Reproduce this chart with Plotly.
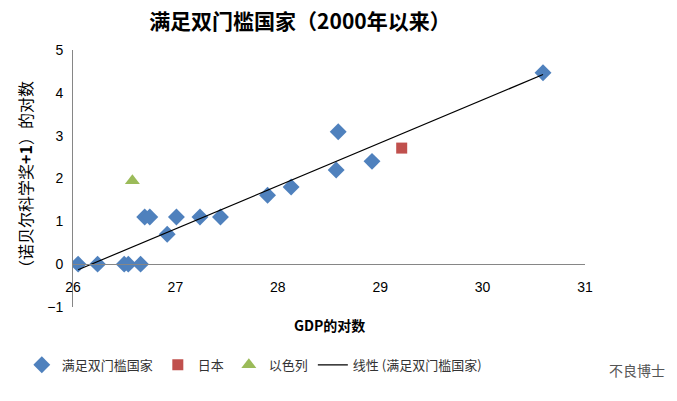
import numpy as np
import plotly.graph_objects as go

# Data
main_x = [26.05, 26.24, 26.50, 26.54, 26.66, 26.70, 26.75, 26.92, 27.01, 27.24, 27.44,
          27.90, 28.13, 28.59, 28.57, 28.92, 30.59]
main_y = [0.0, 0.0, 0.0, 0.0, 0.0, 1.10, 1.10, 0.70, 1.10, 1.10, 1.10,
          1.61, 1.80, 3.09, 2.20, 2.40, 4.47]
japan_x = [29.21]
japan_y = [2.71]
israel_x = [26.58]
israel_y = [1.95]

x_ticks = [26, 27, 28, 29, 30, 31]
y_ticks = [-1, 0, 1, 2, 3, 4, 5]

name_main = "满足双门槛国家"
name_japan = "日本"
name_israel = "以色列"
name_trend = "线性 (满足双门槛国家)"
title_text = "<b>满足双门槛国家（2000年以来）</b>"
x_title = "GDP的对数"
y_title = "（诺贝尔科学奖<b>+1</b>）的对数"

# linear trend line fitted to main series
slope, intercept = np.polyfit(main_x, main_y, 1)
trend_x = [min(main_x), max(main_x)]
trend_y = [slope * v + intercept for v in trend_x]

cjk = "Noto Sans CJK SC, Liberation Sans, sans-serif"
num_font = "Liberation Sans, Noto Sans CJK SC, sans-serif"

fig = go.Figure()
fig.add_trace(go.Scatter(x=main_x, y=main_y, mode="markers", name=name_main,
                         marker=dict(symbol="diamond", size=13, color="#4F81BD")))
fig.add_trace(go.Scatter(x=japan_x, y=japan_y, mode="markers", name=name_japan,
                         marker=dict(symbol="square", size=11, color="#C0504D")))
fig.add_trace(go.Scatter(x=israel_x, y=israel_y, mode="markers", name=name_israel,
                         marker=dict(symbol="triangle-up", size=13, color="#9BBB59")))
fig.add_trace(go.Scatter(x=trend_x, y=trend_y, mode="lines", name=name_trend,
                         line=dict(color="black", width=1.2)))

y_range = [-1, 5]
x_axis_pos = (0 - y_range[0]) / (y_range[1] - y_range[0])

fig.update_layout(
    width=677, height=401,
    margin=dict(l=73, r=92, t=50, b=94),
    paper_bgcolor="white", plot_bgcolor="white",
    title=dict(text=title_text, x=0.443, xanchor="center", y=0.945, yanchor="middle",
               font=dict(family=cjk, size=21, color="black")),
    xaxis=dict(range=[26, 31], tickvals=x_ticks, showgrid=False, zeroline=False,
               showline=True, linecolor="#868686", linewidth=1,
               anchor="free", position=x_axis_pos, ticks="",
               ticklabelstandoff=10,
               tickfont=dict(family=num_font, size=14, color="black")),
    yaxis=dict(range=y_range, tickvals=y_ticks, showgrid=False, zeroline=False,
               showline=True, linecolor="#868686", linewidth=1, ticks="",
               ticklabelstandoff=6,
               tickfont=dict(family=num_font, size=14, color="black"),
               title=dict(text=y_title, standoff=10,
                          font=dict(family=cjk, size=16, color="black"))),
    legend=dict(orientation="h", x=-0.1, y=-0.225, xanchor="left", yanchor="middle",
                font=dict(family=cjk, size=13, color="#333333"),
                itemwidth=30, tracegroupgap=0, bgcolor="rgba(0,0,0,0)"),
    showlegend=True,
)

fig.add_annotation(text="<b>" + x_title + "</b>", xref="paper", yref="paper",
                   x=0.5, y=-0.07, xanchor="center", yanchor="middle", showarrow=False,
                   font=dict(family=cjk, size=14, color="black"))
fig.add_annotation(text="不良博士", xref="paper", yref="paper",
                   x=1.16, y=-0.245, xanchor="right", yanchor="middle", showarrow=False,
                   font=dict(family=cjk, size=14, color="#555555"))

fig.write_html("out.html", config={"displayModeBar": False},
               post_script="document.body.style.margin='0';")
